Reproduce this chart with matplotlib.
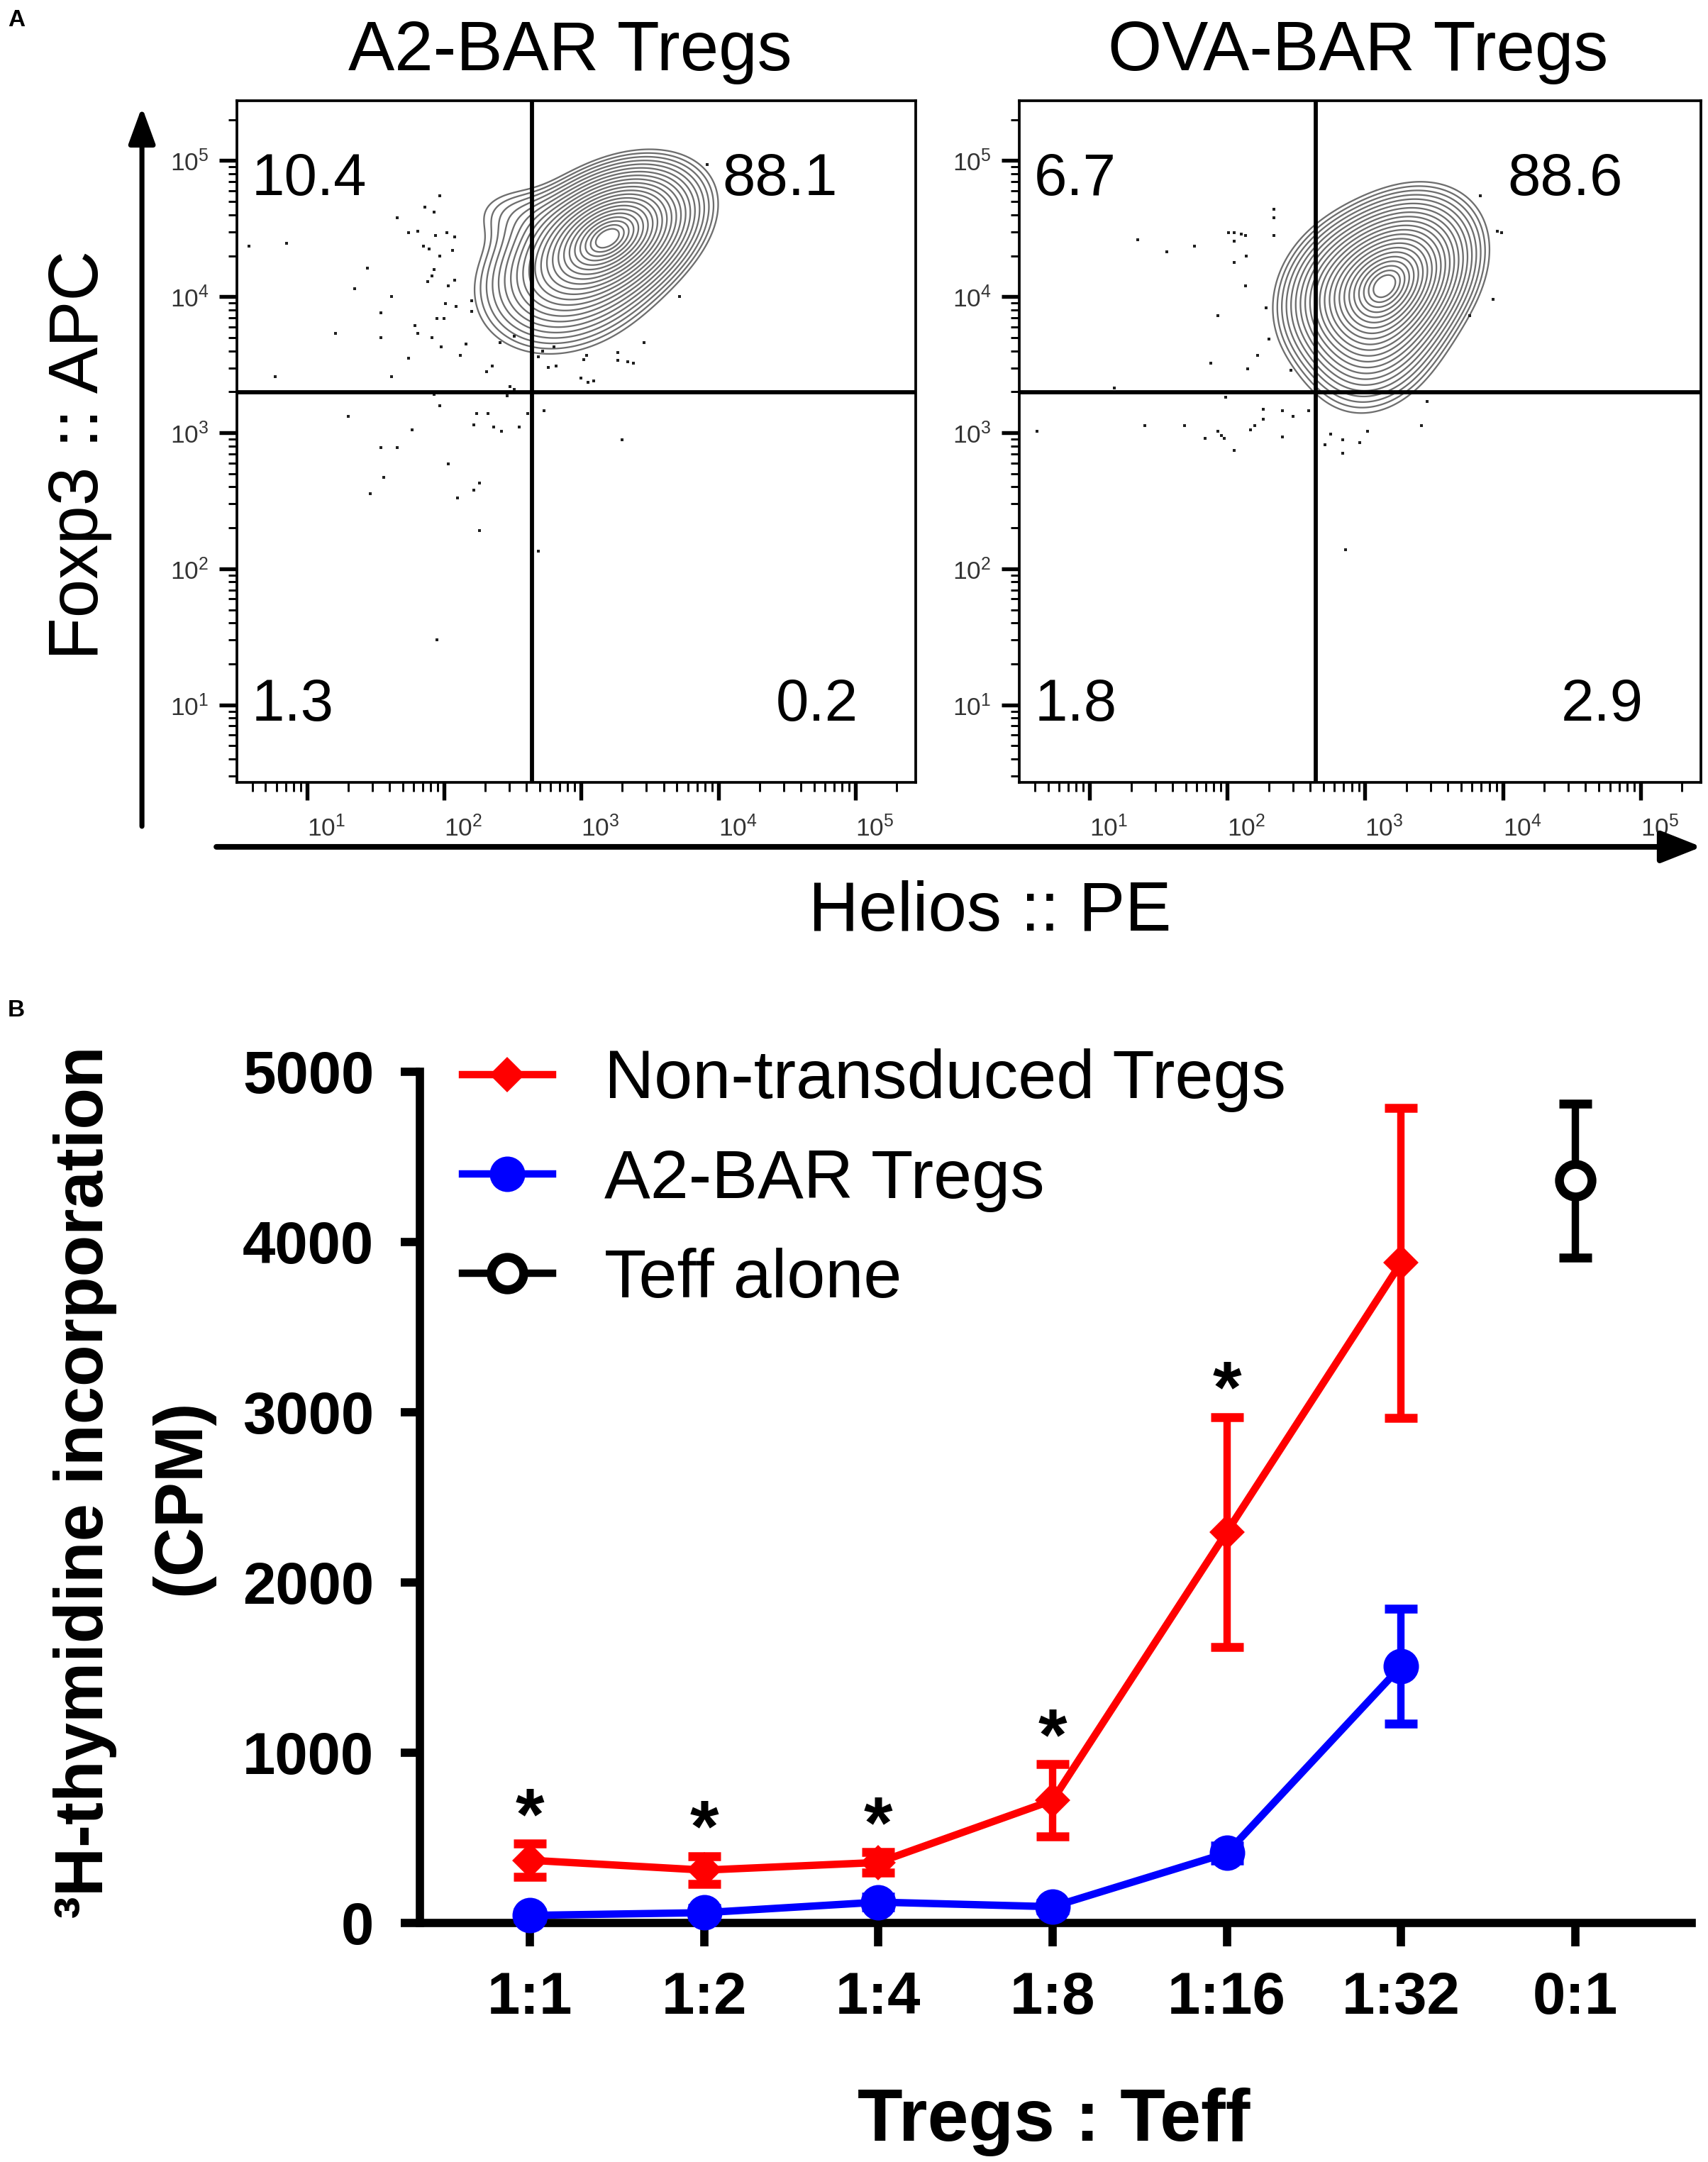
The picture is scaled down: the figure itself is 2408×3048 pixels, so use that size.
import matplotlib
matplotlib.use('Agg')
import matplotlib.pyplot as plt
from matplotlib.patches import FancyArrowPatch
from matplotlib.lines import Line2D
from matplotlib.ticker import LogLocator, LogFormatterSciNotation, NullFormatter
import numpy as np

plt.rcParams['font.family'] = ['Liberation Sans', 'DejaVu Sans']

RED = '#FF0000'
BLUE = '#0000FF'

# ── Panel A data: gate percentages (UL, UR, LL, LR) ─────────────────────────
a2_quads = ['10.4', '88.1', '1.3', '0.2']
ova_quads = ['6.7', '88.6', '1.8', '2.9']
gate_x = 10 ** 2.64     # Helios gate
gate_y = 10 ** 3.30     # Foxp3 gate

# density components (log10 Helios, log10 Foxp3)
a2_cx = [3.24, 2.90, 2.50]
a2_cy = [4.47, 4.15, 4.62]
a2_sx = [0.31, 0.34, 0.22]
a2_sy = [0.25, 0.29, 0.14]
a2_rho = [0.35, 0.20, 0.0]
a2_w = [1.0, 0.45, 0.025]

ova_cx = [3.20, 3.08, 2.80]
ova_cy = [4.14, 3.72, 4.05]
ova_sx = [0.29, 0.26, 0.25]
ova_sy = [0.29, 0.30, 0.28]
ova_rho = [0.30, 0.20, 0.20]
ova_w = [1.0, 0.30, 0.20]

# outlier events (log10 values)
a2_dx = [1.97, 1.86, 1.93, 1.66, 0.85, 0.58, 1.74, 1.81, 1.94, 2.02, 2.08, 1.85, 1.89, 1.97,
         2.06, 1.93, 1.91, 1.44, 1.88, 2.03, 2.08, 1.35, 1.62, 2.01, 2.09, 2.20, 1.54, 2.20,
         1.95, 2.00, 1.79, 1.81, 1.21, 1.54, 1.91, 2.16, 1.98, 2.12, 2.51, 2.41, 1.74, 2.35,
         2.31, 0.77, 1.62, 2.48, 2.51, 2.46, 1.93, 1.97,
         1.30, 1.77, 2.24, 2.32, 2.22, 2.36, 2.42, 2.55, 2.61, 2.73, 1.54, 1.66, 2.03, 1.56,
         1.46, 2.22, 2.26, 2.10, 2.26, 1.95, 2.69, 3.30,
         2.69, 2.76, 2.82, 3.02, 3.04, 3.00, 3.05, 3.09, 3.27, 3.27, 3.34, 3.38, 3.46, 3.72,
         3.92, 2.72, 2.80]
a2_dy = [4.74, 4.66, 4.62, 4.58, 4.39, 4.37, 4.47, 4.48, 4.45, 4.47, 4.44, 4.37, 4.35, 4.30,
         4.34, 4.20, 4.15, 4.21, 4.11, 4.08, 4.12, 4.06, 4.00, 3.95, 3.93, 3.97, 3.88, 3.89,
         3.84, 3.84, 3.79, 3.73, 3.73, 3.70, 3.70, 3.65, 3.63, 3.57, 3.71, 3.66, 3.55, 3.49,
         3.45, 3.41, 3.41, 3.34, 3.32, 3.27, 3.28, 3.20,
         3.12, 3.02, 3.14, 3.14, 3.06, 3.04, 3.01, 3.04, 3.14, 3.16, 2.89, 2.89, 2.77, 2.67,
         2.55, 2.58, 2.63, 2.52, 2.28, 1.48, 2.13, 2.95,
         3.56, 3.48, 3.49, 3.54, 3.57, 3.40, 3.37, 3.38, 3.59, 3.53, 3.52, 3.51, 3.66, 4.00,
         4.97, 3.60, 3.63]

ova_dx = [2.34, 2.34, 2.34, 2.01, 2.05, 2.10, 2.13, 2.05, 2.14, 1.35, 1.56, 1.76, 2.05, 2.13,
          2.28, 1.93, 2.30, 2.22, 2.15, 1.88, 2.46, 1.18, 1.99, 2.26, 2.26, 2.40, 2.48, 2.59,
          1.40, 1.69, 1.84, 1.93, 1.96, 1.98, 2.05, 2.17, 2.20, 2.40, 0.62, 2.71, 2.75, 2.84,
          2.84, 2.96, 3.02, 3.41, 3.45, 2.86, 3.84, 3.96, 3.99, 3.93, 3.76]
ova_dy = [4.64, 4.58, 4.45, 4.47, 4.47, 4.46, 4.45, 4.41, 4.30, 4.42, 4.33, 4.37, 4.25, 4.08,
          3.92, 3.86, 3.69, 3.57, 3.47, 3.51, 3.46, 3.33, 3.26, 3.17, 3.10, 3.16, 3.12, 3.16,
          3.05, 3.05, 2.96, 3.01, 2.98, 2.96, 2.87, 3.02, 3.05, 2.97, 3.01, 2.91, 2.99, 2.95,
          2.85, 2.93, 3.01, 3.05, 3.23, 2.14, 4.74, 4.48, 4.47, 3.98, 3.86]

# ── Panel B data ─────────────────────────────────────────────────────────────
ratios = ['1:1', '1:2', '1:4', '1:8', '1:16', '1:32', '0:1']
nt_mean = [368, 310, 355, 720, 2296, 3877]
nt_err = [98, 82, 60, 212, 676, 910]
a2_mean = [44, 60, 122, 95, 410, 1507]
a2_err = [20, 25, 30, 20, 45, 337]
teff_mean = [4360]
teff_err = [452]
significant = [True, True, True, True, True, False]

# ── helpers ─────────────────────────────────────────────────────────────────
LX = np.linspace(0.49, 5.44, 400)
LY = np.linspace(0.43, 5.44, 400)
GX, GY = np.meshgrid(LX, LY)


def density(cx, cy, sx, sy, rho, w):
    Z = np.zeros_like(GX)
    for mx, my, ux, uy, r, wt in zip(cx, cy, sx, sy, rho, w):
        u = (GX - mx) / ux
        v = (GY - my) / uy
        Z += wt * np.exp(-(u * u - 2 * r * u * v + v * v) / (2 * (1 - r * r))) / (ux * uy * np.sqrt(1 - r * r))
    return Z


def flow_panel(ax, comps, dx, dy, quads):
    Z = density(*comps)
    # evenly spaced rings (in Gaussian radius) from the peak outwards
    radii = np.linspace(0.25, 2.5, 22)
    levels = np.sort(Z.max() * np.exp(-0.5 * radii ** 2))
    ax.contour(10 ** GX, 10 ** GY, Z, levels=levels, colors='#6e6e6e', linewidths=0.55)
    ax.plot(10 ** np.array(dx), 10 ** np.array(dy), ls='none', marker='s', ms=0.8,
            mew=0, color='#202020')
    ax.set_xscale('log')
    ax.set_yscale('log')
    ax.set_xlim(10 ** 0.49, 10 ** 5.44)
    ax.set_ylim(10 ** 0.43, 10 ** 5.44)
    ax.axvline(gate_x, color='black', lw=1.4)
    ax.axhline(gate_y, color='black', lw=1.4)
    for s in ax.spines.values():
        s.set_linewidth(0.9)
    for axis in (ax.xaxis, ax.yaxis):
        axis.set_major_locator(LogLocator(base=10, numticks=10))
        axis.set_minor_locator(LogLocator(base=10, subs=np.arange(2, 10), numticks=20))
        axis.set_major_formatter(LogFormatterSciNotation())
        axis.set_minor_formatter(NullFormatter())
    ax.tick_params(which='major', direction='out', length=6, width=1.3, labelsize=8.5,
                   labelcolor='#333333', top=False, right=False)
    ax.tick_params(which='minor', direction='out', length=3, width=0.7, top=False, right=False)
    ax.tick_params(axis='x', which='major', pad=5)
    for lab in ax.get_xticklabels():
        lab.set_ha('left')
    kw = dict(transform=ax.transAxes, fontsize=20, va='center')
    ax.text(0.022, 0.885, quads[0], ha='left', **kw)
    ax.text(0.885, 0.885, quads[1], ha='right', **kw)
    ax.text(0.022, 0.113, quads[2], ha='left', **kw)
    ax.text(0.915, 0.113, quads[3], ha='right', **kw)


# ── Figure ──────────────────────────────────────────────────────────────────
fig = plt.figure(figsize=(8.0267, 10.16), dpi=300)

ax1 = fig.add_axes([0.1387, 0.6381, 0.3974, 0.3153])
ax2 = fig.add_axes([0.5968, 0.6381, 0.3991, 0.3153])
flow_panel(ax1, (a2_cx, a2_cy, a2_sx, a2_sy, a2_rho, a2_w), a2_dx, a2_dy, a2_quads)
flow_panel(ax2, (ova_cx, ova_cy, ova_sx, ova_sy, ova_rho, ova_w), ova_dx, ova_dy, ova_quads)

fig.text(0.3339, 0.976, 'A2-BAR Tregs', ha='center', va='center', fontsize=23.5)
fig.text(0.7953, 0.976, 'OVA-BAR Tregs', ha='center', va='center', fontsize=23.5)
fig.text(0.0469, 0.7897, 'Foxp3 :: APC', rotation=90, ha='center', va='center', fontsize=23.5)
fig.text(0.5797, 0.578, 'Helios :: PE', ha='center', va='center', fontsize=23.5)

# axis arrows of panel A
fig.add_artist(FancyArrowPatch((0.0831, 0.6178), (0.0831, 0.9505), transform=fig.transFigure,
                               arrowstyle='-|>,head_length=0.52,head_width=0.19',
                               mutation_scale=20, lw=1.7, color='black', shrinkA=0, shrinkB=0))
fig.add_artist(FancyArrowPatch((0.1267, 0.6083), (0.9962, 0.6083), transform=fig.transFigure,
                               arrowstyle='-|>,head_length=0.58,head_width=0.23',
                               mutation_scale=20, lw=1.9, color='black', shrinkA=0, shrinkB=0))

fig.text(0.0096, 0.9905, 'A', ha='center', va='center', fontsize=8, fontweight='bold')
fig.text(0.0096, 0.5328, 'B', ha='center', va='center', fontsize=8, fontweight='bold')

# ── Panel B ─────────────────────────────────────────────────────────────────
axb = fig.add_axes([0.2460, 0.1106, 0.7446, 0.3937])
xi = np.arange(len(ratios))
n = len(nt_mean)

axb.errorbar(xi[:n], a2_mean, yerr=a2_err, color=BLUE, lw=2.5, marker='o', ms=11,
             capsize=5.6, capthick=3, elinewidth=2.5, zorder=4, clip_on=False)
axb.errorbar(xi[:n], nt_mean, yerr=nt_err, color=RED, lw=2.5, marker='D', ms=7.5,
             capsize=5.6, capthick=3, elinewidth=2.5, zorder=5, clip_on=False)
axb.errorbar(xi[n:], teff_mean, yerr=teff_err, color='black', lw=2.5, marker='o', ms=11,
             mfc='white', mec='black', mew=3, capsize=5.6, capthick=3, elinewidth=2.5,
             zorder=5, clip_on=False)

for i, (m, e, s) in enumerate(zip(nt_mean, nt_err, significant)):
    if s:
        axb.annotate('*', xy=(xi[i], m + e), xytext=(0, 1.5), textcoords='offset points',
                     ha='center', va='baseline', fontsize=25, fontweight='bold')

axb.set_xlim(-0.63, 6.67)
axb.set_ylim(0, 5000)
axb.set_yticks([0, 1000, 2000, 3000, 4000, 5000])
axb.set_xticks(xi)
axb.set_xticklabels(ratios)
for side in ('top', 'right'):
    axb.spines[side].set_visible(False)
for side in ('left', 'bottom'):
    axb.spines[side].set_linewidth(2.8)
axb.tick_params(axis='both', width=2.8, labelsize=20)
axb.tick_params(axis='y', length=6.6, pad=9)
axb.tick_params(axis='x', length=8, pad=8)
for lab in axb.get_xticklabels() + axb.get_yticklabels():
    lab.set_fontweight('bold')

handles = [
    Line2D([], [], color=RED, lw=2.5, marker='D', ms=7.5),
    Line2D([], [], color=BLUE, lw=2.5, marker='o', ms=11),
    Line2D([], [], color='black', lw=2.5, marker='o', ms=11, mfc='white', mew=3),
]
axb.legend(handles, ['Non-transduced Tregs', 'A2-BAR Tregs', 'Teff alone'],
           loc='upper left', bbox_to_anchor=(0.033, 1.027), frameon=False, fontsize=23.3,
           handlelength=1.31, handletextpad=0.75, labelspacing=0.52, borderpad=0,
           borderaxespad=0, numpoints=1)

fig.text(0.0500, 0.3143, '³H-thymidine incorporation', rotation=90, ha='center', va='center',
         fontsize=23, fontweight='bold')
fig.text(0.1064, 0.3074, '(CPM)', rotation=90, ha='center', va='center',
         fontsize=23, fontweight='bold')
fig.text(0.617, 0.0187, 'Tregs : Teff', ha='center', va='center', fontsize=25, fontweight='bold')

fig.savefig('out.png', dpi=300)
